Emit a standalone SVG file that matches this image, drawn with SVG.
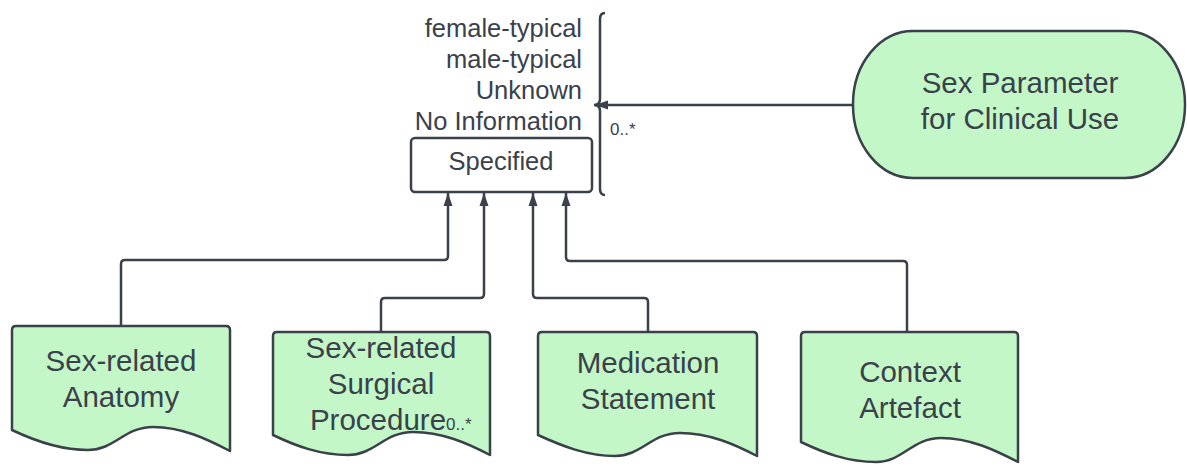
<svg xmlns="http://www.w3.org/2000/svg" width="1187" height="466" viewBox="0 0 1187 466">
  <style>
    text { font-family: "Liberation Sans", Arial, sans-serif; fill: #3a414a; }
    .lbl { font-size: 29.5px; text-anchor: middle; }
    .val { font-size: 25.5px; text-anchor: end; }
    .mult { font-size: 17px; }
    .doc { fill: #c3f7c8; stroke: #3a414a; stroke-width: 2.5; stroke-linejoin: round; }
    .term { fill: #c3f7c8; stroke: #3a414a; stroke-width: 2.5; }
    .box { fill: #ffffff; stroke: #3a414a; stroke-width: 2.5; }
    .conn { fill: none; stroke: #3a414a; stroke-width: 2.5; }
  </style>
  <defs>
    <marker id="arrow" markerUnits="userSpaceOnUse" markerWidth="14" markerHeight="10" refX="13" refY="5" orient="auto">
      <path d="M0,0.5 L13,5 L0,9.5 z" fill="#3a414a"/>
    </marker>
  </defs>

  <!-- enumeration of values with the Specified box -->
  <g id="specified">
    <text class="val" x="582" y="37">female-typical</text>
    <text class="val" x="582" y="68">male-typical</text>
    <text class="val" x="582" y="99">Unknown</text>
    <text class="val" x="582" y="130">No Information</text>
    <rect class="box" x="411" y="138" width="181" height="54" rx="4"/>
    <text x="501" y="170" style="font-size:25.5px;text-anchor:middle">Specified</text>
  </g>

  <!-- brace grouping the values -->
  <g id="brace">
    <path class="conn" d="M605,13 Q600,13 600,19 V99 Q600,105 594,105 Q600,105 600,111 V189 Q600,195 605,195"/>
    <text class="mult" x="610" y="135">0..*</text>
  </g>

  <!-- terminator node -->
  <g id="sex-parameter">
    <rect class="term" x="853" y="31" width="332" height="147" rx="60" ry="73"/>
    <text class="lbl" x="1020" y="93">Sex Parameter</text>
    <text class="lbl" x="1020" y="129">for Clinical Use</text>
  </g>

  <!-- document nodes -->
  <g id="anatomy">
    <path class="doc" d="M12,330 Q12,326 16,326 H226 Q230,326 230,330 V451 C207,439 182,427 153,427 C124,427 115,450 88,450 C60,450 35,441 12,430 Z"/>
    <text class="lbl" x="121" y="371">Sex-related</text>
    <text class="lbl" x="121" y="407">Anatomy</text>
  </g>

  <g id="surgical-procedure">
    <path class="doc" d="M273,336 Q273,332 277,332 H486 Q490,332 490,336 V455 C467,443 442,432 413,432 C384,432 375,455 348,455 C320,455 296,446 273,435 Z"/>
    <text class="lbl" x="381" y="358">Sex-related</text>
    <text class="lbl" x="381" y="394">Surgical</text>
    <text class="lbl" x="378" y="430">Procedure</text>
    <text class="mult" x="446" y="430">0..*</text>
  </g>

  <g id="medication-statement">
    <path class="doc" d="M538,336 Q538,332 542,332 H753 Q757,332 757,336 V456 C734,444 709,433 680,433 C651,433 642,456 615,456 C587,456 562,446 538,435 Z"/>
    <text class="lbl" x="648" y="373">Medication</text>
    <text class="lbl" x="648" y="409">Statement</text>
  </g>

  <g id="context-artefact">
    <path class="doc" d="M801,336 Q801,332 805,332 H1014 Q1018,332 1018,336 V462 C995,450 970,438 941,438 C912,438 903,462 876,462 C848,462 824,453 801,442 Z"/>
    <text class="lbl" x="910" y="382">Context</text>
    <text class="lbl" x="910" y="418">Artefact</text>
  </g>

  <!-- connectors -->
  <g id="connectors">
    <path class="conn" marker-end="url(#arrow)" d="M853,105 H595"/>
    <path class="conn" marker-end="url(#arrow)" d="M121,326 V264 Q121,260 125,260 H444 Q448,260 448,256 V193"/>
    <path class="conn" marker-end="url(#arrow)" d="M381,332 V302 Q381,298 385,298 H480 Q484,298 484,294 V193"/>
    <path class="conn" marker-end="url(#arrow)" d="M648,332 V302 Q648,298 644,298 H537 Q533,298 533,294 V193"/>
    <path class="conn" marker-end="url(#arrow)" d="M907,332 V265 Q907,261 903,261 H570 Q566,261 566,257 V193"/>
  </g>
</svg>
